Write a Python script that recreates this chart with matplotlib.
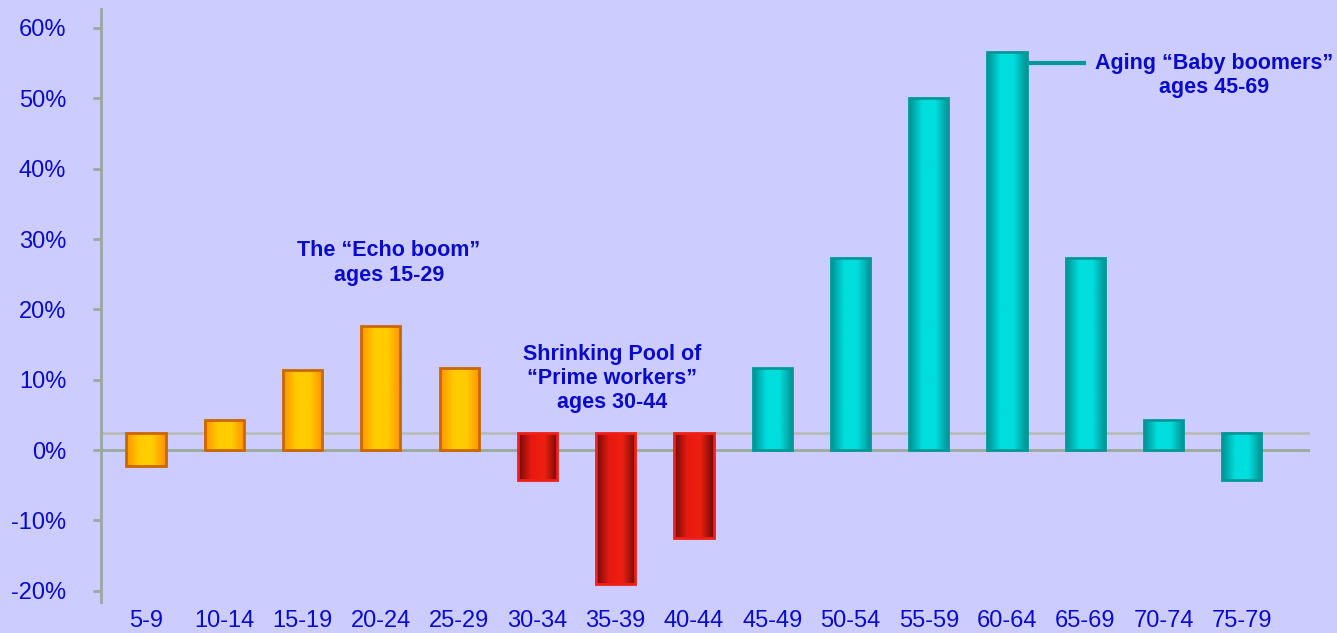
import numpy as np
import matplotlib.pyplot as plt
from matplotlib.colors import LinearSegmentedColormap

plt.rcParams['font.family'] = ['Liberation Sans', 'DejaVu Sans']

# age groups and projected change in population (%)
ages = ['5-9', '10-14', '15-19', '20-24', '25-29', '30-34', '35-39', '40-44',
        '45-49', '50-54', '55-59', '60-64', '65-69', '70-74', '75-79']
change = [-2.3, 4.3, 11.4, 17.6, 11.7, -4.3, -19.1, -12.5,
          11.7, 27.3, 50.1, 56.6, 27.3, 4.3, -4.3]
group = ['echo'] * 5 + ['prime'] * 3 + ['boomer'] * 7

floor_line = 2.4  # back wall line of the old 3D chart

styles = {
    'echo': (['#FF9000', '#FFCC00', '#FFCC00', '#FF9000'], '#CC6600'),
    'prime': (['#6E0A0A', '#E81A10', '#EE2010', '#6E0A0A'], '#F02018'),
    'boomer': (['#009090', '#00DDDD', '#00DDDD', '#009090'], '#009999'),
}

bg = '#CCCCFF'
txt = '#0A0ACC'
axis_col = '#9AAA9A'

fig = plt.figure(figsize=(13.37, 6.33), dpi=100, facecolor=bg)
ax = fig.add_axes([101 / 1337, 31 / 633, 1209 / 1337, 593 / 633])
ax.set_facecolor(bg)

x = np.arange(len(ages))
vals = np.array(change)
bottoms = np.where(vals < 0, floor_line, 0)
heights = vals - bottoms

ax.axhline(floor_line, color='#BBBBBB', lw=2, zorder=1)
ax.axhline(0, color=axis_col, lw=2, zorder=1)

grad = np.linspace(0, 1, 256).reshape(1, -1)
for xi, b, h, g in zip(x, bottoms, heights, group):
    cols, edge = styles[g]
    cmap = LinearSegmentedColormap.from_list(g, cols)
    bar = ax.bar(xi, h, bottom=b, width=0.5, color='none', edgecolor=edge,
                 linewidth=2, zorder=3)[0]
    y0, y1 = sorted([b, b + h])
    im = ax.imshow(grad, cmap=cmap, aspect='auto', zorder=2,
                   extent=[xi - 0.25, xi + 0.25, y0, y1])
    im.set_clip_path(bar)

ax.set_xlim(-0.575, 14.87)
ax.set_ylim(-21.6, 62.7)
ax.set_xticks(x)
ax.set_xticklabels(ages)
ax.set_yticks(np.arange(-20, 61, 10))
ax.set_yticklabels([f'{v}%' for v in range(-20, 61, 10)])
ax.tick_params(axis='y', colors=axis_col, length=6, width=2, labelsize=17,
               labelcolor=txt, pad=19)
ax.tick_params(axis='x', length=0, labelsize=17, labelcolor=txt, pad=6)
for s in ['top', 'right', 'bottom']:
    ax.spines[s].set_visible(False)
ax.spines['left'].set_color(axis_col)
ax.spines['left'].set_linewidth(2)

kw = dict(color=txt, fontsize=15.5, fontweight='bold', ha='center', va='center',
          linespacing=1.2)
ax.text(3.1, 26.6, 'The \u201cEcho boom\u201d\nages 15-29', **kw)
ax.text(5.95, 10.2, 'Shrinking Pool of\n\u201cPrime workers\u201d\nages 30-44', **kw)
ax.text(13.65, 53.3, 'Aging \u201cBaby boomers\u201d\nages 45-69', **kw)
ax.plot([11.3, 11.98], [55.05, 55.05], color='#009999', lw=3, zorder=3)

fig.savefig('out.png', dpi=100, facecolor=bg)
